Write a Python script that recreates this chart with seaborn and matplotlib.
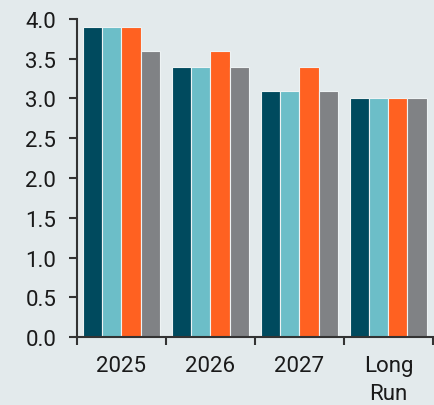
import matplotlib
matplotlib.use("Agg")
import matplotlib.pyplot as plt
import seaborn as sns
import pandas as pd
import numpy as np

categories = ["2025", "2026", "2027", "Long\nRun"]
series_names = ["Series A", "Series B", "Series C", "Series D"]
series_a = [3.9, 3.4, 3.1, 3.0]
series_b = [3.9, 3.4, 3.1, 3.0]
series_c = [3.9, 3.6, 3.4, 3.0]
series_d = [3.6, 3.4, 3.1, 3.0]
colors = ["#004a5e", "#6cbec8", "#ff6121", "#808285"]
yticks = [0.0, 0.5, 1.0, 1.5, 2.0, 2.5, 3.0, 3.5, 4.0]

rows = []
for name, vals in zip(series_names, [series_a, series_b, series_c, series_d]):
    for c, v in zip(categories, vals):
        rows.append({"category": c, "series": name, "value": v})
df = pd.DataFrame(rows)

bg = "#e3eaec"
sns.set_style("ticks")
plt.rcParams["font.family"] = ["Roboto", "DejaVu Sans"]

fig = plt.figure(figsize=(4.35, 4.06), dpi=100, facecolor=bg)
ax = fig.add_axes([0.177, 0.167, 0.818, 0.784])
ax.set_facecolor(bg)

sns.barplot(data=df, x="category", y="value", hue="series", order=categories,
            hue_order=series_names, palette=colors, width=0.86, saturation=1,
            edgecolor="#eef3f4", linewidth=0.8, ax=ax, legend=False)

ax.set_ylim(0, 4.0)
ax.set_xlim(-0.5, len(categories) - 0.5)
ax.set_yticks(yticks)
ax.set_yticklabels([f"{t:.1f}" for t in yticks])
ax.set_xticks(np.arange(-0.5, len(categories)), labels=[""] * (len(categories) + 1))
ax.set_xticks(np.arange(len(categories)), labels=categories, minor=True)
ax.tick_params(axis="x", which="minor", length=0, pad=13, labelsize=16, colors="#1a1a1a")
ax.tick_params(axis="x", which="major", length=6, width=1.5, color="#333333")
ax.tick_params(axis="y", length=6, width=1.5, color="#333333", labelsize=16,
               labelcolor="#1a1a1a", pad=9)
for lbl in ax.get_xticklabels(minor=True):
    lbl.set_linespacing(1.45)

ax.set_xlabel("")
ax.set_ylabel("")
sns.despine(ax=ax)
ax.spines["left"].set_linewidth(1.5)
ax.spines["bottom"].set_linewidth(1.5)
ax.spines["left"].set_color("#333333")
ax.spines["bottom"].set_color("#333333")

fig.savefig("out.png", dpi=100, facecolor=bg)
